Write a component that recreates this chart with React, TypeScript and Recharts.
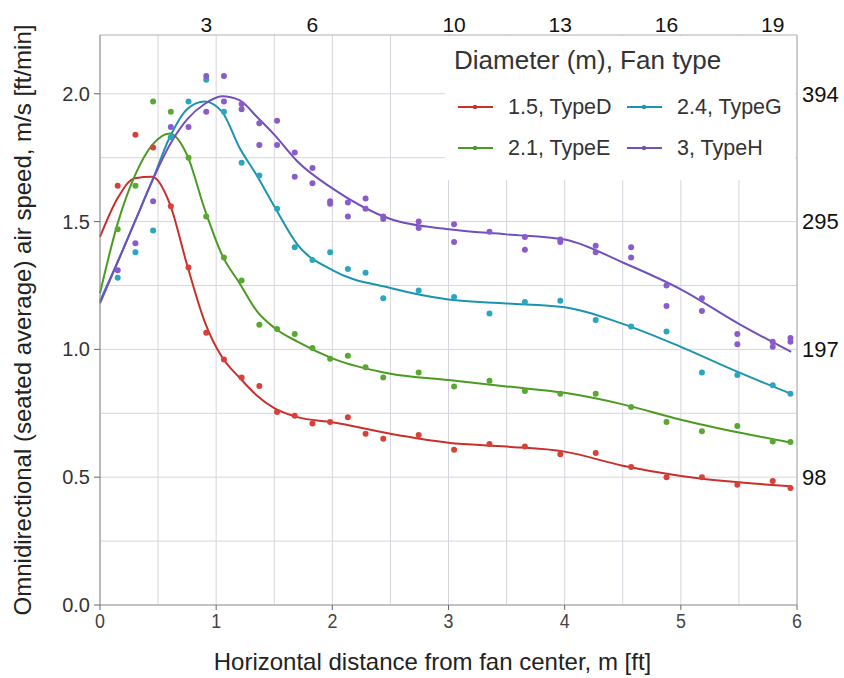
import React from 'react';
import {
  ComposedChart, Line, Scatter, XAxis, YAxis, CartesianGrid, Legend,
} from 'recharts';

// Smoothed fit curves (x in m, y in m/s)
const curveX = [0, 0.15, 0.3, 0.45, 0.6, 0.75, 0.9, 1.05, 1.2, 1.35, 1.5, 1.7, 2.0, 2.5, 3.0, 3.5, 4.0, 4.5, 5.0, 5.5, 5.95];
const curveD = [1.44, 1.59, 1.67, 1.675, 1.57, 1.33, 1.11, 0.97, 0.89, 0.82, 0.77, 0.735, 0.715, 0.67, 0.635, 0.62, 0.6, 0.545, 0.505, 0.48, 0.465];
const curveE = [1.22, 1.49, 1.68, 1.8, 1.845, 1.76, 1.55, 1.37, 1.26, 1.15, 1.085, 1.03, 0.965, 0.905, 0.88, 0.855, 0.83, 0.785, 0.725, 0.675, 0.635];
const curveG = [1.19, 1.34, 1.5, 1.66, 1.83, 1.94, 1.97, 1.93, 1.79, 1.68, 1.56, 1.41, 1.31, 1.24, 1.195, 1.18, 1.165, 1.1, 1.01, 0.91, 0.826];
const curveH = [1.18, 1.34, 1.5, 1.66, 1.8, 1.9, 1.96, 1.99, 1.975, 1.91, 1.84, 1.735, 1.63, 1.51, 1.47, 1.45, 1.43, 1.34, 1.235, 1.1, 0.99];

// Measurement positions (ft) and measured speeds (m/s)
const pointFt = [0.5, 1, 1.5, 2, 2.5, 3, 3.5, 4, 4.5, 5, 5.5, 6, 6.5, 7, 7.5, 8, 9, 10, 11, 12, 13, 14, 15, 16, 17, 18, 19, 19.5];
const pointsD = [1.64, 1.84, 1.79, 1.56, 1.32, 1.065, 0.96, 0.89, 0.857, 0.755, 0.74, 0.71, 0.716, 0.735, 0.67, 0.65, 0.665, 0.607, 0.63, 0.62, 0.59, 0.595, 0.54, 0.5, 0.5, 0.47, 0.485, 0.458];
const pointsE = [1.47, 1.64, 1.97, 1.93, 1.75, 1.52, 1.36, 1.27, 1.096, 1.08, 1.06, 1.005, 0.963, 0.975, 0.93, 0.89, 0.91, 0.855, 0.877, 0.837, 0.826, 0.826, 0.775, 0.716, 0.68, 0.7, 0.64, 0.638];
const pointsG = [1.28, 1.38, 1.465, 1.83, 1.97, 2.055, 1.93, 1.73, 1.68, 1.55, 1.4, 1.35, 1.38, 1.315, 1.3, 1.2, 1.23, 1.205, 1.14, 1.185, 1.19, 1.115, 1.09, 1.07, 0.91, 0.9, 0.86, 0.826];
const pointsH1 = [1.31, 1.415, 1.58, 1.87, 1.87, 2.07, 2.07, 1.96, 1.885, 1.895, 1.77, 1.71, 1.58, 1.575, 1.59, 1.52, 1.5, 1.49, 1.46, 1.44, 1.43, 1.405, 1.4, 1.25, 1.2, 1.06, 1.03, 1.045];
const pointsH2 = [null, null, null, null, null, 1.93, 1.97, 1.94, 1.8, 1.8, 1.675, 1.65, 1.57, 1.52, 1.55, 1.51, 1.475, 1.42, null, 1.39, 1.42, 1.38, 1.36, 1.17, 1.15, 1.02, 1.01, 1.03];

// Axis ticks
const xTicks = [0, 1, 2, 3, 4, 5, 6];
const yTicks = [0, 0.5, 1.0, 1.5, 2.0];
const ftTicks = [3, 6, 10, 13, 16, 19];
const fpmTicks = [0.5, 1.0, 1.5, 2.0];
const gridY = [0, 0.25, 0.5, 0.75, 1.0, 1.25, 1.5, 1.75, 2.0];
const gridX = [0, 0.5, 1, 1.5, 2, 2.5, 3, 3.5, 4, 4.5, 5, 5.5, 6];

const FT = 0.3048;
const MS_TO_FPM = 196.85;

const series = [
  { name: '1.5, TypeD', curve: curveD, pts: [pointsD], line: '#c9302c', dot: '#d9403a' },
  { name: '2.1, TypeE', curve: curveE, pts: [pointsE], line: '#4b9a22', dot: '#58a832' },
  { name: '2.4, TypeG', curve: curveG, pts: [pointsG], line: '#1c94b0', dot: '#2aa6c2' },
  { name: '3, TypeH', curve: curveH, pts: [pointsH1, pointsH2], line: '#7150bd', dot: '#8a5ccb' },
];

const toCurve = (ys: number[]) => curveX.map((x, i) => ({ x, y: ys[i] }));
const toPts = (ys: (number | null)[]) =>
  pointFt.map((f, i) => ({ x: f * FT, y: ys[i] })).filter((d) => d.y !== null);

const FONT = '"Liberation Sans", Arial, sans-serif';

const LegendItem = ({ left, top, color, label }: any) => (
  <div style={{ position: 'absolute', left, top, height: 24, display: 'flex', alignItems: 'center' }}>
    <svg width={35} height={10} style={{ display: 'block' }}>
      <line x1={0} y1={5} x2={35} y2={5} stroke={color} strokeWidth={2} />
      <circle cx={17} cy={5} r={2.2} fill={color} />
    </svg>
    <span style={{ marginLeft: 15, fontSize: 21.5, color: '#333', whiteSpace: 'nowrap' }}>{label}</span>
  </div>
);

const LegendBox = () => (
  <div style={{ position: 'relative', width: 350, height: 144, background: '#fff', fontFamily: FONT }}>
    <div style={{ position: 'absolute', left: 9, top: 9, fontSize: 26, color: '#333', whiteSpace: 'nowrap' }}>
      Diameter (m), Fan type
    </div>
    <LegendItem left={13} top={59} color={series[0].line} label={series[0].name} />
    <LegendItem left={182} top={59} color={series[2].line} label={series[2].name} />
    <LegendItem left={13} top={100} color={series[1].line} label={series[1].name} />
    <LegendItem left={182} top={100} color={series[3].line} label={series[3].name} />
  </div>
);

const BottomTick = ({ x, y, payload }: any) => (
  <text transform={`translate(${x},${y}) scale(0.85,1)`} textAnchor="middle" dy="0.71em"
    fontSize={21} fill="#444" fontFamily={FONT}>
    {payload.value}
  </text>
);

const dotShape = (color: string) => (p: any) => <circle cx={p.cx} cy={p.cy} r={3} fill={color} />;

export default function App() {
  return (
    <div style={{ position: 'absolute', left: 0, top: 0, width: 844, height: 678, background: '#fff' }}>
      <ComposedChart width={844} height={678} margin={{ top: 0, right: 0, bottom: 0, left: 0 }} style={{ fontFamily: FONT }}>
        <CartesianGrid stroke="#d5d5dd" strokeWidth={1} horizontalValues={gridY} verticalValues={gridX} />
        <XAxis
          type="number" dataKey="x" domain={[0, 6]} ticks={xTicks} height={73}
          axisLine={{ stroke: '#9a9a9a' }} tickLine={{ stroke: '#666' }} tickSize={5} tickMargin={3}
          tick={<BottomTick />}
          label={{ value: 'Horizontal distance from fan center, m [ft]', position: 'insideBottom', offset: 8, dx: -16, fontSize: 24, fill: '#222' }}
        />
        <XAxis
          xAxisId="top" orientation="top" type="number" dataKey="x" domain={[0, 6]} height={35}
          ticks={ftTicks.map((f) => f * FT)} tickFormatter={(v: number) => String(Math.round(v / FT))}
          axisLine={{ stroke: '#b0b0b0' }} tickLine={false} tickSize={3} tickMargin={0} tick={{ fontSize: 21, fill: '#111' }}
          allowDataOverflow
        />
        <YAxis
          type="number" domain={[0, 2.23]} ticks={yTicks} width={100} allowDataOverflow
          tickFormatter={(v: number) => v.toFixed(1)}
          axisLine={{ stroke: '#8a8a8a' }} tickLine={{ stroke: '#666' }} tickSize={6} tickMargin={4}
          tick={{ fontSize: 20, fill: '#333' }}
          label={{ value: 'Omnidirectional (seated average) air speed, m/s [ft/min]', angle: -90, position: 'center', dx: -28, fontSize: 24, fill: '#222' }}
        />
        <YAxis
          yAxisId="right" orientation="right" type="number" domain={[0, 2.23]} width={47} allowDataOverflow
          ticks={fpmTicks} tickFormatter={(v: number) => String(Math.round(v * MS_TO_FPM))}
          axisLine={{ stroke: '#b0b0b0' }} tickLine={false} tickSize={4} tickMargin={1} tick={{ fontSize: 22, fill: '#111' }}
        />
        <Legend layout="horizontal" verticalAlign="middle" align="center" content={() => <LegendBox />}
          wrapperStyle={{ left: 445, top: 36, width: 350, height: 144 }} />
        {/* invisible helper series so that the top (ft) and right (ft/min) axes have data */}
        <Line xAxisId="top" yAxisId="right" data={toCurve(curveD)} dataKey="y" stroke="none" dot={false}
          isAnimationActive={false} legendType="none" />
        {series.map((s) => (
          <Line key={'c' + s.name} data={toCurve(s.curve)} dataKey="y" type="monotone" stroke={s.line}
            strokeWidth={2} dot={false} isAnimationActive={false} legendType="none" />
        ))}
        {series.flatMap((s) =>
          s.pts.map((p, j) => (
            <Scatter key={'p' + s.name + j} data={toPts(p)} dataKey="y" fill={s.dot}
              shape={dotShape(s.dot)} isAnimationActive={false} legendType="none" />
          ))
        )}
      </ComposedChart>
    </div>
  );
}
